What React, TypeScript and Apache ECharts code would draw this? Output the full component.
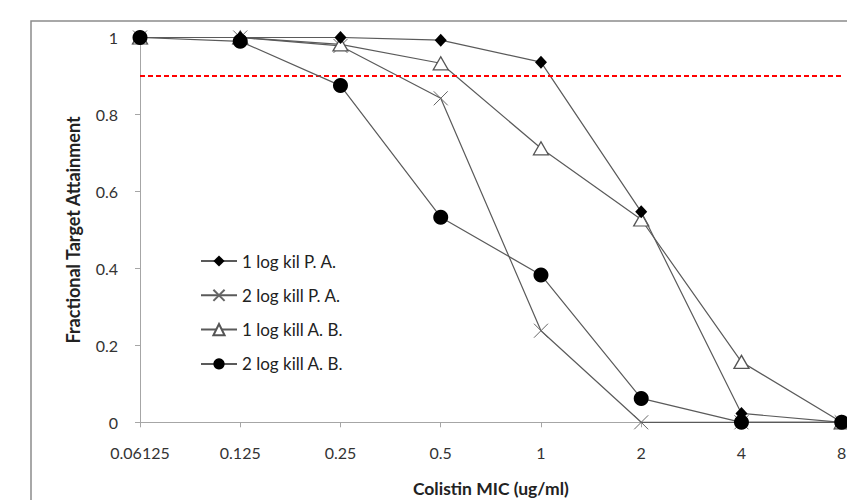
import React, { useEffect, useRef } from "react";
import * as echarts from "echarts";

const categories = ["0.06125", "0.125", "0.25", "0.5", "1", "2", "4", "8"];
const oneLogPA = [1, 1, 1, 0.993, 0.936, 0.547, 0.023, 0];
const twoLogPA = [1, 1, 0.978, 0.842, 0.238, 0, 0, 0];
const oneLogAB = [1, 1, 0.982, 0.933, 0.712, 0.527, 0.157, 0];
const twoLogAB = [1, 0.99, 0.875, 0.533, 0.383, 0.062, 0, 0];
const target = 0.9;
const seriesNames = ["1 log kil P. A.", "2 log kill P. A.", "1 log kill A. B.", "2 log kill A. B."];

const FONT = "Lato, 'Open Sans', sans-serif";
const LINE = "#5a5a5a";

export default function App() {
  const ref = useRef<HTMLDivElement>(null);
  useEffect(() => {
    if (!ref.current) return;
    const chart = echarts.init(ref.current, undefined, { renderer: "svg" });
    const lineStyle = { color: LINE, width: 1.2 };
    chart.setOption({
      animation: false,
      textStyle: { fontFamily: FONT },
      graphic: [
        {
          type: "rect",
          shape: { x: 31, y: 21, width: 900, height: 600 },
          style: { fill: "none", stroke: "#8c8c8c", lineWidth: 1.5 },
          silent: true,
          z: -1,
        },
      ],
      grid: { left: 140, right: 5.3, top: 37.5, bottom: 77.7, outerBoundsMode: "none", containLabel: false },
      legend: {
        orient: "vertical",
        left: 195,
        top: 247.5,
        itemWidth: 36,
        itemHeight: 14,
        itemGap: 17.3,
        textStyle: { fontFamily: FONT, fontSize: 17, color: "#222" },
        data: seriesNames,
      },
      xAxis: {
        type: "category",
        data: categories,
        boundaryGap: false,
        name: "Colistin MIC (ug/ml)",
        nameLocation: "middle",
        nameGap: 57,
        nameTextStyle: { fontFamily: FONT, fontSize: 17.5, fontWeight: "bold", color: "#222" },
        axisLine: { lineStyle: { color: "#a6a6a6", width: 1 } },
        axisTick: { show: true, length: 5, inside: false, lineStyle: { color: "#a6a6a6" } },
        axisLabel: { fontFamily: FONT, fontSize: 16, color: "#333", margin: 22 },
        splitLine: { show: false },
      },
      yAxis: {
        type: "value",
        min: 0,
        max: 1,
        interval: 0.2,
        name: "Fractional Target Attainment",
        nameLocation: "middle",
        nameGap: 58,
        nameRotate: 90,
        nameTextStyle: { fontFamily: FONT, fontSize: 18, fontWeight: "bold", color: "#222" },
        axisLine: { show: true, lineStyle: { color: "#a6a6a6", width: 1 } },
        axisTick: { show: true, length: 5, inside: false, lineStyle: { color: "#a6a6a6" } },
        axisLabel: { fontFamily: FONT, fontSize: 16, color: "#333", margin: 22 },
        splitLine: { show: false },
      },
      series: [
        {
          name: seriesNames[0],
          type: "line",
          data: oneLogPA,
          symbol: "diamond",
          symbolSize: [12, 13],
          lineStyle,
          itemStyle: { color: "#000", borderColor: "#000", borderWidth: 0 },
          z: 4,
          markLine: {
            silent: true,
            symbol: "none",
            label: { show: false },
            lineStyle: { color: "#ff0000", type: [5, 3], width: 1.8 },
            data: [{ yAxis: target }],
          },
        },
        {
          name: seriesNames[1],
          type: "line",
          data: twoLogPA,
          symbol: "path://M0,0L10,10M10,0L0,10",
          symbolSize: 14,
          lineStyle,
          itemStyle: { color: "none", borderColor: "#666", borderWidth: 1 },
          z: 2,
        },
        {
          name: seriesNames[2],
          type: "line",
          data: oneLogAB,
          symbol: "triangle",
          symbolSize: [15, 13],
          lineStyle,
          itemStyle: { color: "#fff", borderColor: "#555", borderWidth: 1.3 },
          z: 3,
        },
        {
          name: seriesNames[3],
          type: "line",
          data: twoLogAB,
          symbol: "circle",
          symbolSize: 15,
          lineStyle,
          itemStyle: { color: "#000", borderColor: "#000", borderWidth: 0 },
          z: 5,
        },
      ],
    });
    return () => chart.dispose();
  }, []);
  return (
    <div
      ref={ref}
      style={{ position: "absolute", left: 0, top: 0, width: 847, height: 500, background: "#fff" }}
    />
  );
}
